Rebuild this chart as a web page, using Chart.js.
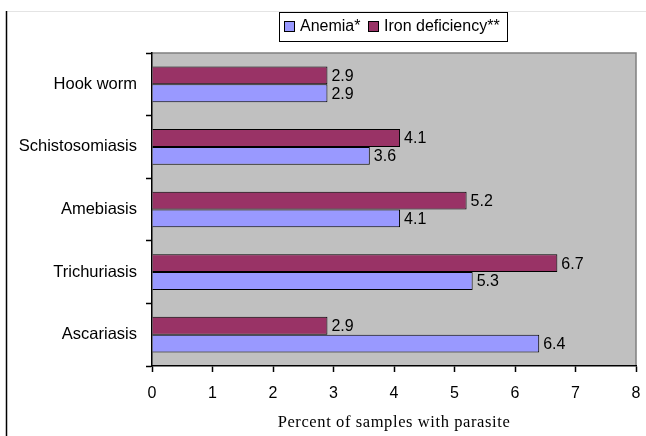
<!DOCTYPE html>
<html>
<head>
<meta charset="utf-8">
<script src="https://cdn.jsdelivr.net/npm/chart.js@4"></script>
<style>
  html, body { margin: 0; padding: 0; background: #fff; }
  #wrap { width: 646px; height: 436px; }
</style>
</head>
<body>
<div id="wrap"><canvas id="parasiteChart"></canvas></div>
<script>
const categories = ['Hook worm', 'Schistosomiasis', 'Amebiasis', 'Trichuriasis', 'Ascariasis'];
const anemia = [2.9, 3.6, 4.1, 5.3, 6.4];
const ironDeficiency = [2.9, 4.1, 5.2, 6.7, 2.9];
const xTicks = [0, 1, 2, 3, 4, 5, 6, 7, 8];
const xTitle = 'Percent of samples with parasite';

const BLUE = '#9999ff';
const RED = '#993366';
const SANS = '"Liberation Sans", Arial, sans-serif';
const SERIF = '"Liberation Serif", "Times New Roman", serif';

// frame lines, grey plot area, value labels, axis title and the boxed legend
const decorations = {
  id: 'decorations',
  beforeDraw(chart) {
    const c = chart.ctx, a = chart.chartArea;
    c.save();
    c.strokeStyle = '#e4e4e4';
    c.lineWidth = 1;
    c.beginPath(); c.moveTo(7, 11.5); c.lineTo(646, 11.5); c.stroke();
    c.strokeStyle = '#000';
    c.lineWidth = 1.5;
    c.beginPath(); c.moveTo(6.5, 11); c.lineTo(6.5, 436); c.stroke();
    c.fillStyle = '#c0c0c0';
    c.fillRect(a.left, a.top, a.right - a.left, a.bottom - a.top);
    c.strokeStyle = '#808080';
    c.lineWidth = 1.5;
    c.beginPath();
    c.moveTo(a.left, a.top); c.lineTo(a.right, a.top); c.lineTo(a.right, a.bottom);
    c.stroke();
    c.restore();
  },
  afterDatasetsDraw(chart) {
    const c = chart.ctx;
    c.save();
    c.font = '16px ' + SANS;
    c.fillStyle = '#000';
    c.textBaseline = 'middle';
    c.textAlign = 'left';
    chart.data.datasets.forEach((ds, i) => {
      chart.getDatasetMeta(i).data.forEach((bar, j) => {
        c.fillText(ds.data[j].toFixed(1), bar.x + 4, bar.y + 1);
      });
    });
    c.restore();
  },
  afterDraw(chart) {
    const c = chart.ctx, a = chart.chartArea;
    c.save();
    // x axis title
    c.font = '16.5px ' + SERIF;
    c.letterSpacing = '0.6px';
    c.fillStyle = '#000';
    c.textAlign = 'center';
    c.textBaseline = 'alphabetic';
    c.fillText(xTitle, (a.left + a.right) / 2, 427);
    c.letterSpacing = '0px';
    // legend
    c.fillStyle = '#fff';
    c.fillRect(279, 12, 228, 29);
    c.strokeStyle = '#000';
    c.lineWidth = 1;
    c.strokeRect(279.5, 12.5, 228, 29);
    c.font = '16px ' + SANS;
    c.textAlign = 'left';
    c.textBaseline = 'middle';
    const items = [['Anemia*', BLUE, 284], ['Iron deficiency**', RED, 368]];
    items.forEach(([txt, col, x]) => {
      c.fillStyle = col;
      c.fillRect(x, 21, 11, 11);
      c.strokeRect(x + 0.5, 21.5, 10, 10);
      c.fillStyle = '#000';
      c.fillText(txt, x + 16, 27);
    });
    c.restore();
  }
};

const ctx = document.getElementById('parasiteChart').getContext('2d');
const parasiteChart = new Chart(ctx, {
  type: 'bar',
  data: {
    labels: categories,
    datasets: [{
      label: 'Iron deficiency**',
      data: ironDeficiency,
      backgroundColor: RED,
      borderColor: '#000',
      borderWidth: 1,
      categoryPercentage: 0.57,
      barPercentage: 1
    }, {
      label: 'Anemia*',
      data: anemia,
      backgroundColor: BLUE,
      borderColor: '#000',
      borderWidth: 1,
      categoryPercentage: 0.57,
      barPercentage: 1
    }]
  },
  options: {
    indexAxis: 'y',
    responsive: true,
    maintainAspectRatio: false,
    animation: false,
    layout: { padding: { top: 53, right: 10, left: 0, bottom: 0 } },
    scales: {
      x: {
        min: 0,
        max: 8,
        afterBuildTicks(scale) {
          scale.ticks = xTicks.map(v => ({ value: v }));
        },
        afterFit(scale) {
          scale.height = 70;
          scale.paddingLeft = 0;
          scale.paddingRight = 0;
        },
        grid: { drawOnChartArea: false, tickLength: 6, color: '#000', tickWidth: 1.5 },
        border: { color: '#000', width: 1.5 },
        ticks: { color: '#000', font: { family: SANS, size: 16 }, padding: 12, maxRotation: 0 }
      },
      y: {
        afterFit(scale) {
          scale.width = 152;
          scale.paddingTop = 0;
          scale.paddingBottom = 0;
        },
        grid: { drawOnChartArea: false, offset: true, tickLength: 6, color: '#000', tickWidth: 1.5 },
        border: { color: '#000', width: 1.5 },
        ticks: { color: '#000', font: { family: SANS, size: 16.5 }, padding: 9 }
      }
    },
    plugins: {
      legend: { display: false },
      tooltip: { enabled: false }
    }
  },
  plugins: [decorations]
});
</script>
</body>
</html>
